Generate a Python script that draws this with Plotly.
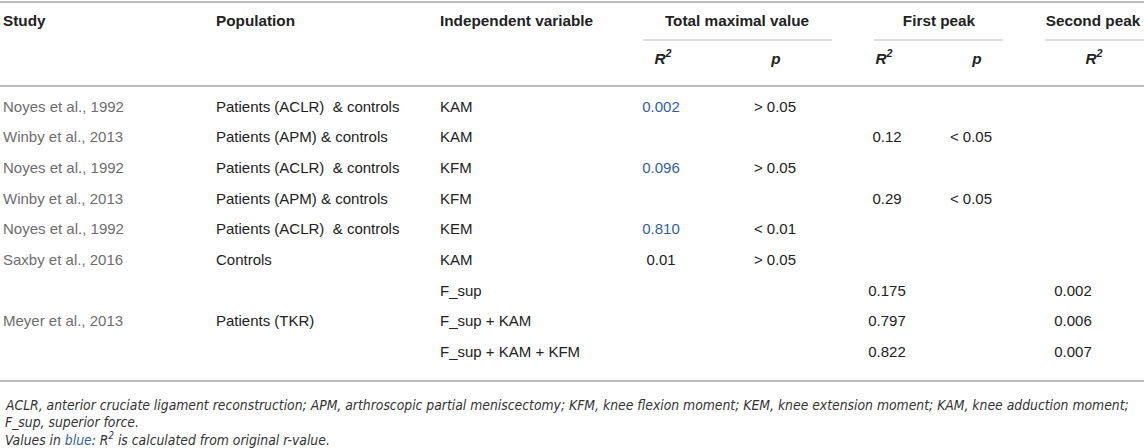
import plotly.graph_objects as go

# table content
studies = ["Noyes et al., 1992", "Winby et al., 2013", "Noyes et al., 1992", "Winby et al., 2013",
           "Noyes et al., 1992", "Saxby et al., 2016", "", "Meyer et al., 2013", ""]
populations = ["Patients (ACLR)  & controls", "Patients (APM) & controls", "Patients (ACLR)  & controls",
               "Patients (APM) & controls", "Patients (ACLR)  & controls", "Controls", "", "Patients (TKR)", ""]
variables = ["KAM", "KAM", "KFM", "KFM", "KEM", "KAM", "F_sup", "F_sup + KAM", "F_sup + KAM + KFM"]
total_r2 = ["0.002", "", "0.096", "", "0.810", "0.01", "", "", ""]
total_r2_from_r = [True, False, True, False, True, False, False, False, False]
total_p = ["> 0.05", "", "> 0.05", "", "< 0.01", "> 0.05", "", "", ""]
first_r2 = ["", "0.12", "", "0.29", "", "", "0.175", "0.797", "0.822"]
first_p = ["", "< 0.05", "", "< 0.05", "", "", "", "", ""]
second_r2 = ["", "", "", "", "", "", "0.002", "0.006", "0.007"]

group_headers = ["Total maximal value", "First peak", "Second peak"]
footnotes = [
    "ACLR, anterior cruciate ligament reconstruction; APM, arthroscopic partial meniscectomy; KFM, knee flexion moment; "
    "KEM, knee extension moment; KAM, knee adduction moment;",
    "F_sup, superior force.",
    "Values in <span style='color:#2f5fa8'>blue</span>: R<sup>2</sup> is calculated from original r-value.",
]

# layout (pixels)
W, H = 1144, 448
row0, row_h = 108, 30.65
rows = [row0 + i * row_h for i in range(len(variables))]
FONT = "Liberation Sans"
TXT = "#222222"
GREY = "#6e6e6e"
BLUE = "#2f5fa8"
RULE = "#bdbdbd"

fig = go.Figure()


def col(x, texts, pos="middle right", colors=TXT, size=15):
    keep = [i for i, t in enumerate(texts) if t]
    if isinstance(colors, list):
        colors = [colors[i] for i in keep]
    fig.add_trace(go.Scatter(
        x=[x] * len(keep), y=[rows[i] for i in keep], text=[texts[i] for i in keep],
        mode="text", textposition=pos, hoverinfo="skip",
        textfont=dict(family=FONT, size=size, color=colors),
    ))


col(3, studies, colors=GREY)
col(216, populations)
col(440, variables)
col(661, total_r2, pos="middle center", colors=[BLUE if b else TXT for b in total_r2_from_r])
col(775, total_p, pos="middle center")
col(887, first_r2, pos="middle center")
col(971, first_p, pos="middle center")
col(1073, second_r2, pos="middle center")

# headers
hdr = dict(family=FONT, size=15.3, color=TXT)
for x, t in [(3, "Study"), (216, "Population"), (440, "Independent variable")]:
    fig.add_trace(go.Scatter(x=[x], y=[22], text=["<b>%s</b>" % t], mode="text",
                             textposition="middle right", textfont=hdr, hoverinfo="skip"))
for x, t in zip([737, 939, 1093], group_headers):
    fig.add_trace(go.Scatter(x=[x], y=[22], text=["<b>%s</b>" % t], mode="text",
                             textposition="middle center", textfont=hdr, hoverinfo="skip"))
for x, t in [(663, "R<sup>2</sup>"), (776, "p"), (884, "R<sup>2</sup>"), (977, "p"), (1094, "R<sup>2</sup>")]:
    fig.add_trace(go.Scatter(x=[x], y=[60], text=["<b><i>%s</i></b>" % t], mode="text",
                             textposition="middle center", textfont=hdr, hoverinfo="skip"))

# rules
shapes = [
    dict(type="line", x0=0, x1=W, y0=2, y1=2, line=dict(color=RULE, width=2)),
    dict(type="line", x0=0, x1=W, y0=86, y1=86, line=dict(color=RULE, width=2)),
    dict(type="line", x0=0, x1=W, y0=381, y1=381, line=dict(color=RULE, width=2)),
]
for a, b in [(643, 832), (874, 1003), (1045, W)]:
    shapes.append(dict(type="line", x0=a, x1=b, y0=40, y1=40, line=dict(color=RULE, width=1.2)))

annotations = [
    dict(x=3, y=y, xref="x", yref="y", text="<i>%s</i>" % t, showarrow=False, xanchor="left",
         font=dict(family="DejaVu Sans Condensed, Liberation Sans", size=13.8, color="#333333"))
    for y, t in zip([405, 422, 439], footnotes)
]

fig.update_layout(
    width=W, height=H, margin=dict(l=0, r=0, t=0, b=0),
    paper_bgcolor="white", plot_bgcolor="white", showlegend=False,
    xaxis=dict(range=[0, W], visible=False, fixedrange=True),
    yaxis=dict(range=[H, 0], visible=False, fixedrange=True),
    shapes=shapes, annotations=annotations,
)

fig.write_html("out.html", config={"displayModeBar": False},
               post_script="document.body.style.margin='0';document.body.style.overflow='hidden';")
